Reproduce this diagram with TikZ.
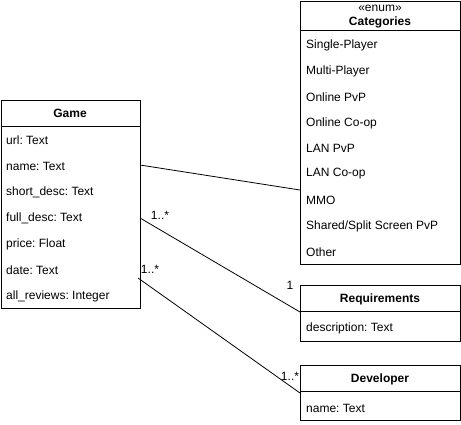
\documentclass[tikz,border=0pt]{standalone}
\usepackage{fontspec}
\setmainfont{Liberation Sans}
\frenchspacing
\begin{document}
\begin{tikzpicture}[x=1pt,y=-1pt,
  box/.style={draw,line width=0.9pt,anchor=north west,inner sep=0pt,minimum width=#1},
  row/.style={anchor=west,inner sep=0pt,font=\fontsize{12}{14}\selectfont},
  head/.style={inner sep=0pt,font=\fontsize{12}{14}\selectfont\bfseries},
  lbl/.style={inner sep=0pt,font=\fontsize{12}{14}\selectfont},
  conn/.style={line width=0.8pt}]
\useasboundingbox (0,0) rectangle (461,424);
% Game
\node[box=139.5pt,minimum height=208pt] (game) at (0.5,100) {};
\draw[line width=0.9pt] (0.5,126) -- (140,126);
\node[head] (gt) at (70,113) {Game};
\node[row] (g1) at (6,140) {url: Text};
\node[row] (g2) at (6,166) {name: Text};
\node[row] (g3) at (6,192) {short\_desc: Text};
\node[row] (g4) at (6,218) {full\_desc: Text};
\node[row] (g5) at (6,244) {price: Float};
\node[row] (g6) at (6,270) {date: Text};
\node[row] (g7) at (6,296) {all\_reviews: Integer};
% Categories
\node[box=160pt,minimum height=263pt] (cat) at (300,1) {};
\draw[line width=0.9pt] (300,30) -- (460,30);
\node[lbl] (ce) at (380,8) {«enum»};
\node[head] (ct) at (380,22) {Categories};
\node[row] (c1) at (306,45) {Single-Player};
\node[row] (c2) at (306,71) {Multi-Player};
\node[row] (c3) at (306,97) {Online PvP};
\node[row] (c4) at (306,123) {Online Co-op};
\node[row] (c5) at (306,148) {LAN PvP};
\node[row] (c6) at (306,174) {LAN Co-op};
\node[row] (c7) at (306,200) {MMO};
\node[row] (c8) at (306,226) {Shared/Split Screen PvP};
\node[row] (c9) at (306,252) {Other};
% Requirements
\node[box=160pt,minimum height=56pt] (req) at (300,285) {};
\draw[line width=0.9pt] (300,311) -- (460,311);
\node[head] (rt) at (380,299) {Requirements};
\node[row] (r1) at (306,328) {description: Text};
% Developer
\node[box=160pt,minimum height=55pt] (dev) at (300,365) {};
\draw[line width=0.9pt] (300,391) -- (460,391);
\node[head] (dt) at (380,379) {Developer};
\node[row] (d1) at (306,408) {name: Text};
% connectors
\coordinate (a1) at (140,165);
\coordinate (b1) at (300,190);
\coordinate (a2) at (140,218);
\coordinate (b2) at (300,312);
\coordinate (a3) at (138,278);
\coordinate (b3) at (300,393);
\draw[conn] (a1) -- (b1);
\draw[conn] (a2) -- (b2);
\draw[conn] (a3) -- (b3);
\node[lbl] (m1) at (160,215) {1..*};
\node[lbl] (m2) at (290,285) {1};
\node[lbl] (m3) at (150,269) {1..*};
\node[lbl] (m4) at (290,376) {1..*};
\end{tikzpicture}
\end{document}
